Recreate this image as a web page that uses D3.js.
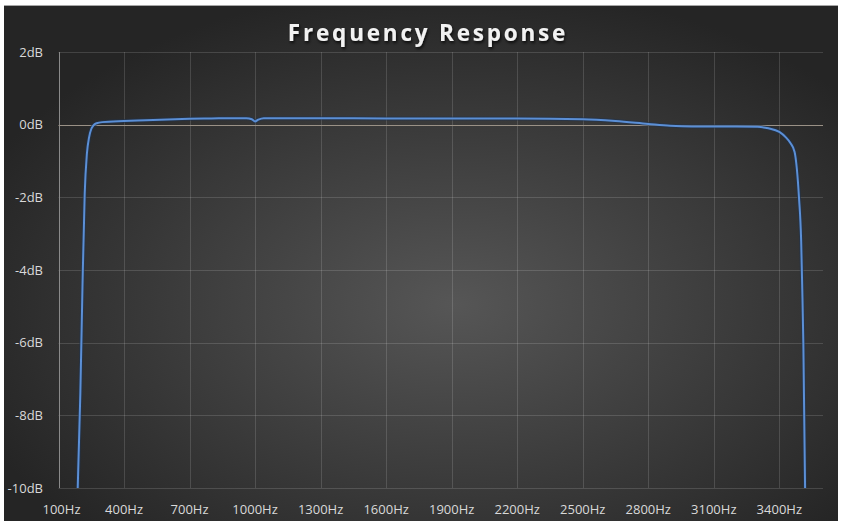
<!DOCTYPE html>
<html>
<head>
<script type="text/javascript" src="https://cdn.jsdelivr.net/npm/d3@7/dist/d3.min.js"></script>
<style>
	body { margin: 0; background: #ffffff; }
</style>
</head>
<body>
<script type="text/javascript">
	var w = 841;
	var h = 521;
	var plot = { left: 58.5, right: 823, top: 52, bottom: 488 };

	// frequency (Hz) and response (dB)
	var freqs = [188, 200, 210, 220, 230, 240, 250, 260, 275, 300, 400, 500, 600, 700, 800, 900, 960,
		985, 1000, 1015, 1040, 1100, 1300, 1600, 1900, 2200, 2500, 2650, 2800, 2900, 3000, 3100, 3200,
		3300, 3350, 3400, 3430, 3450, 3470, 3480, 3490, 3500, 3505, 3510, 3518];
	var gains = [-10, -7.4, -4.4, -1.9, -0.8, -0.35, -0.12, -0.02, 0.04, 0.07, 0.1, 0.12, 0.14, 0.16, 0.17, 0.18, 0.18,
		0.15, 0.09, 0.14, 0.18, 0.18, 0.18, 0.17, 0.17, 0.17, 0.15, 0.1, 0.02, -0.03, -0.05, -0.05, -0.05,
		-0.06, -0.1, -0.2, -0.35, -0.5, -0.75, -1.2, -2.0, -3.2, -4.5, -6.0, -10];
	var xTicks = [100, 400, 700, 1000, 1300, 1600, 1900, 2200, 2500, 2800, 3100, 3400];
	var yTicks = [-10, -8, -6, -4, -2, 0, 2];

	var data = freqs.map(function (f, i) { return { f: f, db: gains[i] }; });

	var xScale = d3.scaleLinear().domain([100, 3600]).range([plot.left, plot.right]);
	var yScale = d3.scaleLinear().domain([-10, 2]).range([plot.bottom, plot.top]);

	var svg = d3.select("body").append("svg")
		.attr("width", w)
		.attr("height", h);

	var defs = svg.append("defs");
	var grad = defs.append("radialGradient")
		.attr("id", "bg")
		.attr("cx", "54%").attr("cy", "58%").attr("r", "62%");
	grad.append("stop").attr("offset", "0%").attr("stop-color", "#565656");
	grad.append("stop").attr("offset", "100%").attr("stop-color", "#252525");

	defs.append("clipPath").attr("id", "clip")
		.append("rect")
		.attr("x", plot.left).attr("y", plot.top)
		.attr("width", plot.right - plot.left).attr("height", plot.bottom - plot.top);

	var shadow = defs.append("filter").attr("id", "shadow")
		.attr("x", "-10%").attr("y", "-30%").attr("width", "120%").attr("height", "160%");
	shadow.append("feDropShadow")
		.attr("dx", 1).attr("dy", 2).attr("stdDeviation", 1.5)
		.attr("flood-color", "#000").attr("flood-opacity", 0.8);

	// chart area background
	svg.append("rect")
		.attr("x", 4).attr("y", 5)
		.attr("width", 834).attr("height", 516)
		.attr("fill", "url(#bg)");
	svg.append("line")
		.attr("x1", 4).attr("x2", 838).attr("y1", 5.5).attr("y2", 5.5)
		.attr("stroke", "#a6a6a6").attr("stroke-width", 1);

	// gridlines
	svg.selectAll("line.hgrid")
		.data(yTicks.filter(function (d) { return d != 0; }))
		.enter().append("line")
		.attr("class", "hgrid")
		.attr("x1", plot.left).attr("x2", plot.right)
		.attr("y1", function (d) { return Math.round(yScale(d)) + 0.5; })
		.attr("y2", function (d) { return Math.round(yScale(d)) + 0.5; })
		.attr("stroke", "#ffffff").attr("stroke-opacity", 0.14);

	svg.selectAll("line.vgrid")
		.data(xTicks.slice(1))
		.enter().append("line")
		.attr("class", "vgrid")
		.attr("x1", function (d) { return Math.round(xScale(d)) + 0.5; })
		.attr("x2", function (d) { return Math.round(xScale(d)) + 0.5; })
		.attr("y1", plot.top).attr("y2", plot.bottom)
		.attr("stroke", "#ffffff").attr("stroke-opacity", 0.14);

	// axis lines
	svg.append("line")
		.attr("x1", Math.round(plot.left) + 0.5).attr("x2", Math.round(plot.left) + 0.5)
		.attr("y1", plot.top).attr("y2", plot.bottom)
		.attr("stroke", "#8a8a8a");
	svg.append("line")
		.attr("x1", plot.left).attr("x2", plot.right)
		.attr("y1", Math.round(yScale(0)) + 0.5).attr("y2", Math.round(yScale(0)) + 0.5)
		.attr("stroke", "#9a9186");

	// tick labels
	svg.selectAll("text.ylab")
		.data(yTicks)
		.enter().append("text")
		.attr("class", "ylab")
		.attr("x", 43)
		.attr("y", function (d) { return yScale(d); })
		.attr("dy", "0.36em")
		.attr("text-anchor", "end")
		.attr("fill", "#d9d9d9")
		.style("font-family", "'Open Sans', sans-serif")
		.style("font-size", "13px")
		.text(function (d) { return d + "dB"; });

	svg.selectAll("text.xlab")
		.data(xTicks)
		.enter().append("text")
		.attr("class", "xlab")
		.attr("x", function (d, i) { return xScale(d) + (i == 0 ? 3 : 0); })
		.attr("y", 514)
		.attr("text-anchor", "middle")
		.attr("fill", "#d9d9d9")
		.style("font-family", "'Open Sans', sans-serif")
		.style("font-size", "13px")
		.text(function (d) { return d + "Hz"; });

	// response curve
	var line = d3.line()
		.x(function (d) { return xScale(d.f); })
		.y(function (d) { return yScale(d.db); })
		.curve(d3.curveMonotoneX);

	svg.append("path")
		.datum(data)
		.attr("clip-path", "url(#clip)")
		.attr("fill", "none")
		.attr("stroke", "#1f3350")
		.attr("stroke-opacity", 0.6)
		.attr("stroke-width", 4)
		.attr("d", line);

	svg.append("path")
		.datum(data)
		.attr("clip-path", "url(#clip)")
		.attr("fill", "none")
		.attr("stroke", "#5b8fd6")
		.attr("stroke-width", 2)
		.attr("d", line);

	// title
	svg.append("text")
		.attr("x", 428)
		.attr("y", 41)
		.attr("text-anchor", "middle")
		.attr("fill", "#f2f2f2")
		.attr("filter", "url(#shadow)")
		.style("font-family", "'Open Sans', sans-serif")
		.style("font-weight", "bold")
		.style("font-size", "22.5px")
		.style("letter-spacing", "2.8px")
		.text("Frequency Response");
</script>
</body>
</html>
